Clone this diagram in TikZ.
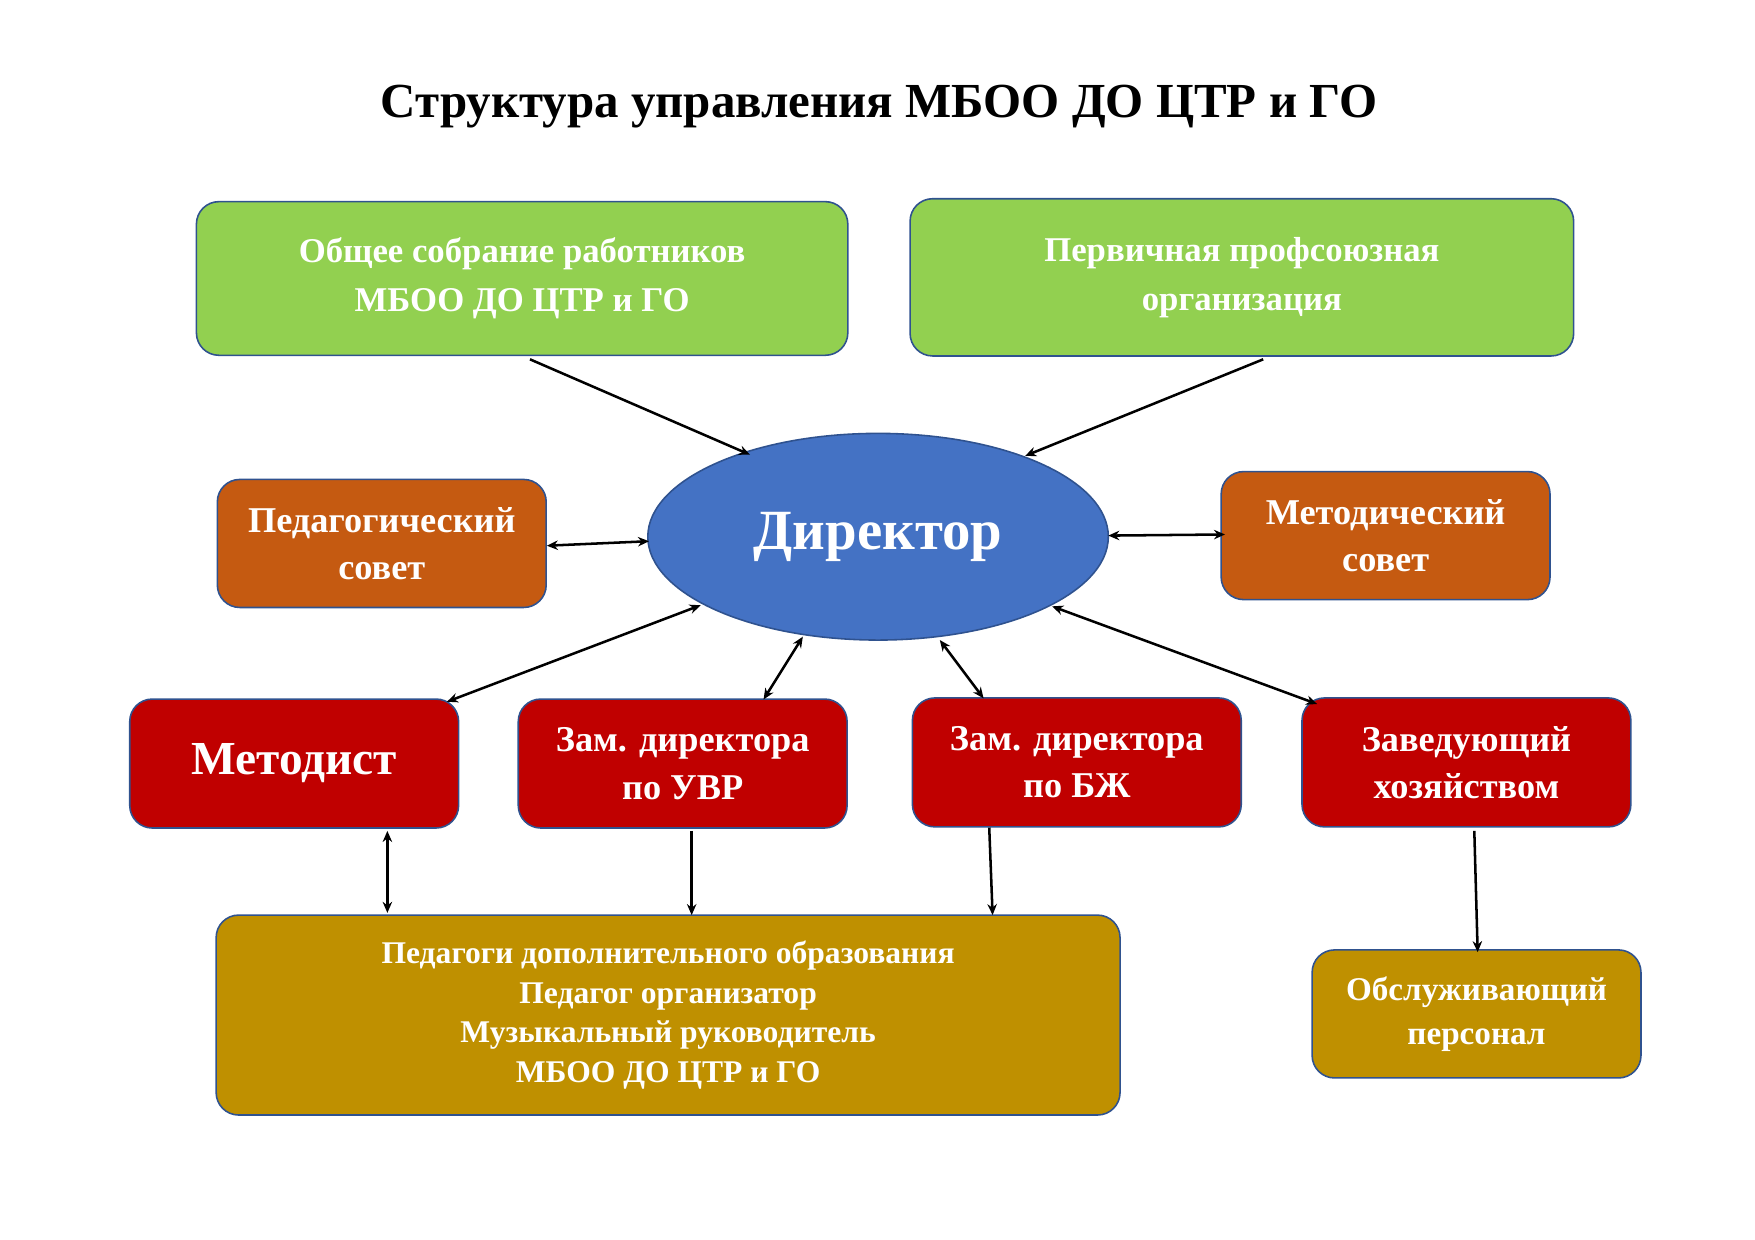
\documentclass[tikz,border=0pt]{standalone}
\usepackage{fontspec}
\setmainfont{Liberation Serif}
\usetikzlibrary{shapes.geometric,arrows.meta}
\definecolor{gr}{HTML}{92D050}
\definecolor{org}{HTML}{C55A11}
\definecolor{rd}{HTML}{C00000}
\definecolor{gd}{HTML}{BF9000}
\definecolor{bl}{HTML}{4472C4}
\definecolor{bd}{HTML}{2F528F}
\begin{document}
\begin{tikzpicture}[x=0.025cm,y=-0.025cm,
 box/.style={draw=bd,line width=1pt,rounded corners=0.5cm,text=white,font=\bfseries,align=center,inner sep=0pt},
 arr/.style={line width=1.6pt,-{Stealth[length=7pt,width=6pt]}},
 darr/.style={line width=1.6pt,{Stealth[length=7pt,width=6pt]}-{Stealth[length=7pt,width=6pt]}}]
\useasboundingbox (0,0) rectangle (1563,1104);
\node[font=\bfseries\fontsize{31}{36}\selectfont] (title) at (783,95) {Структура управления МБОО ДО ЦТР и ГО};
\node[box,fill=gr,minimum width=14.5cm,minimum height=3.42cm,font=\bfseries\fontsize{22}{31}\selectfont] (obs) at (465,248) {Общее собрание работников\\МБОО ДО ЦТР и ГО};
\node[box,fill=gr,minimum width=14.77cm,minimum height=3.5cm,font=\bfseries\fontsize{22}{31}\selectfont] (perv) at (1106,247) {Первичная профсоюзная\\организация};
\node[draw=bd,line width=1pt,ellipse,fill=bl,minimum width=10.25cm,minimum height=4.6cm,text=white,font=\bfseries\fontsize{36}{40}\selectfont] (dir) at (782,478) {Директор};
\node[box,fill=org,minimum width=7.32cm,minimum height=2.85cm,font=\bfseries\fontsize{23}{30}\selectfont] (ped) at (340,484) {Педагогический\\совет};
\node[box,fill=org,minimum width=7.32cm,minimum height=2.85cm,font=\bfseries\fontsize{23}{30}\selectfont] (met) at (1234,477) {Методический\\совет};
\node[box,fill=rd,minimum width=7.32cm,minimum height=2.87cm,font=\bfseries\fontsize{30}{34}\selectfont] (mtd) at (262,680) {Методист};
\node[box,fill=rd,minimum width=7.32cm,minimum height=2.87cm,font=\bfseries\fontsize{23}{30}\selectfont] (uvr) at (608,680) {Зам. директора\\по УВР};
\node[box,fill=rd,minimum width=7.32cm,minimum height=2.87cm,font=\bfseries\fontsize{23}{30}\selectfont] (bzh) at (959,679) {Зам. директора\\по БЖ};
\node[box,fill=rd,minimum width=7.32cm,minimum height=2.87cm,font=\bfseries\fontsize{23}{30}\selectfont] (zav) at (1306,679) {Заведующий\\хозяйством};
\node[box,fill=gd,minimum width=20.12cm,minimum height=4.45cm,font=\bfseries\fontsize{20}{25}\selectfont] (pdo) at (595,904) {Педагоги дополнительного образования\\Педагог организатор\\Музыкальный руководитель\\МБОО ДО ЦТР и ГО};
\node[box,fill=gd,minimum width=7.32cm,minimum height=2.85cm,font=\bfseries\fontsize{21}{28}\selectfont] (obsl) at (1315,903) {Обслуживающий\\персонал};
\coordinate (a1) at (472,320); \coordinate (b1) at (668,405);
\coordinate (a2) at (1125,320); \coordinate (b2) at (913,406);
\coordinate (a3) at (487,486); \coordinate (b3) at (578,482);
\coordinate (a4) at (987,477); \coordinate (b4) at (1091,476);
\coordinate (a5) at (624,539); \coordinate (b5) at (398,625);
\coordinate (a6) at (715,567); \coordinate (b6) at (680,623);
\coordinate (a7) at (837,570); \coordinate (b7) at (876,622);
\coordinate (a8) at (937,540); \coordinate (b8) at (1173,627);
\coordinate (a9) at (345,740); \coordinate (b9) at (345,813);
\coordinate (a10) at (616,740); \coordinate (b10) at (616,815);
\coordinate (a11) at (881,737); \coordinate (b11) at (884,815);
\coordinate (a12) at (1313,740); \coordinate (b12) at (1316,848);
\draw[arr] (a1) -- (b1);
\draw[arr] (a2) -- (b2);
\draw[darr] (a3) -- (b3);
\draw[darr] (a4) -- (b4);
\draw[darr] (a5) -- (b5);
\draw[darr] (a6) -- (b6);
\draw[darr] (a7) -- (b7);
\draw[darr] (a8) -- (b8);
\draw[darr] (a9) -- (b9);
\draw[arr] (a10) -- (b10);
\draw[arr] (a11) -- (b11);
\draw[arr] (a12) -- (b12);
\end{tikzpicture}
\end{document}
